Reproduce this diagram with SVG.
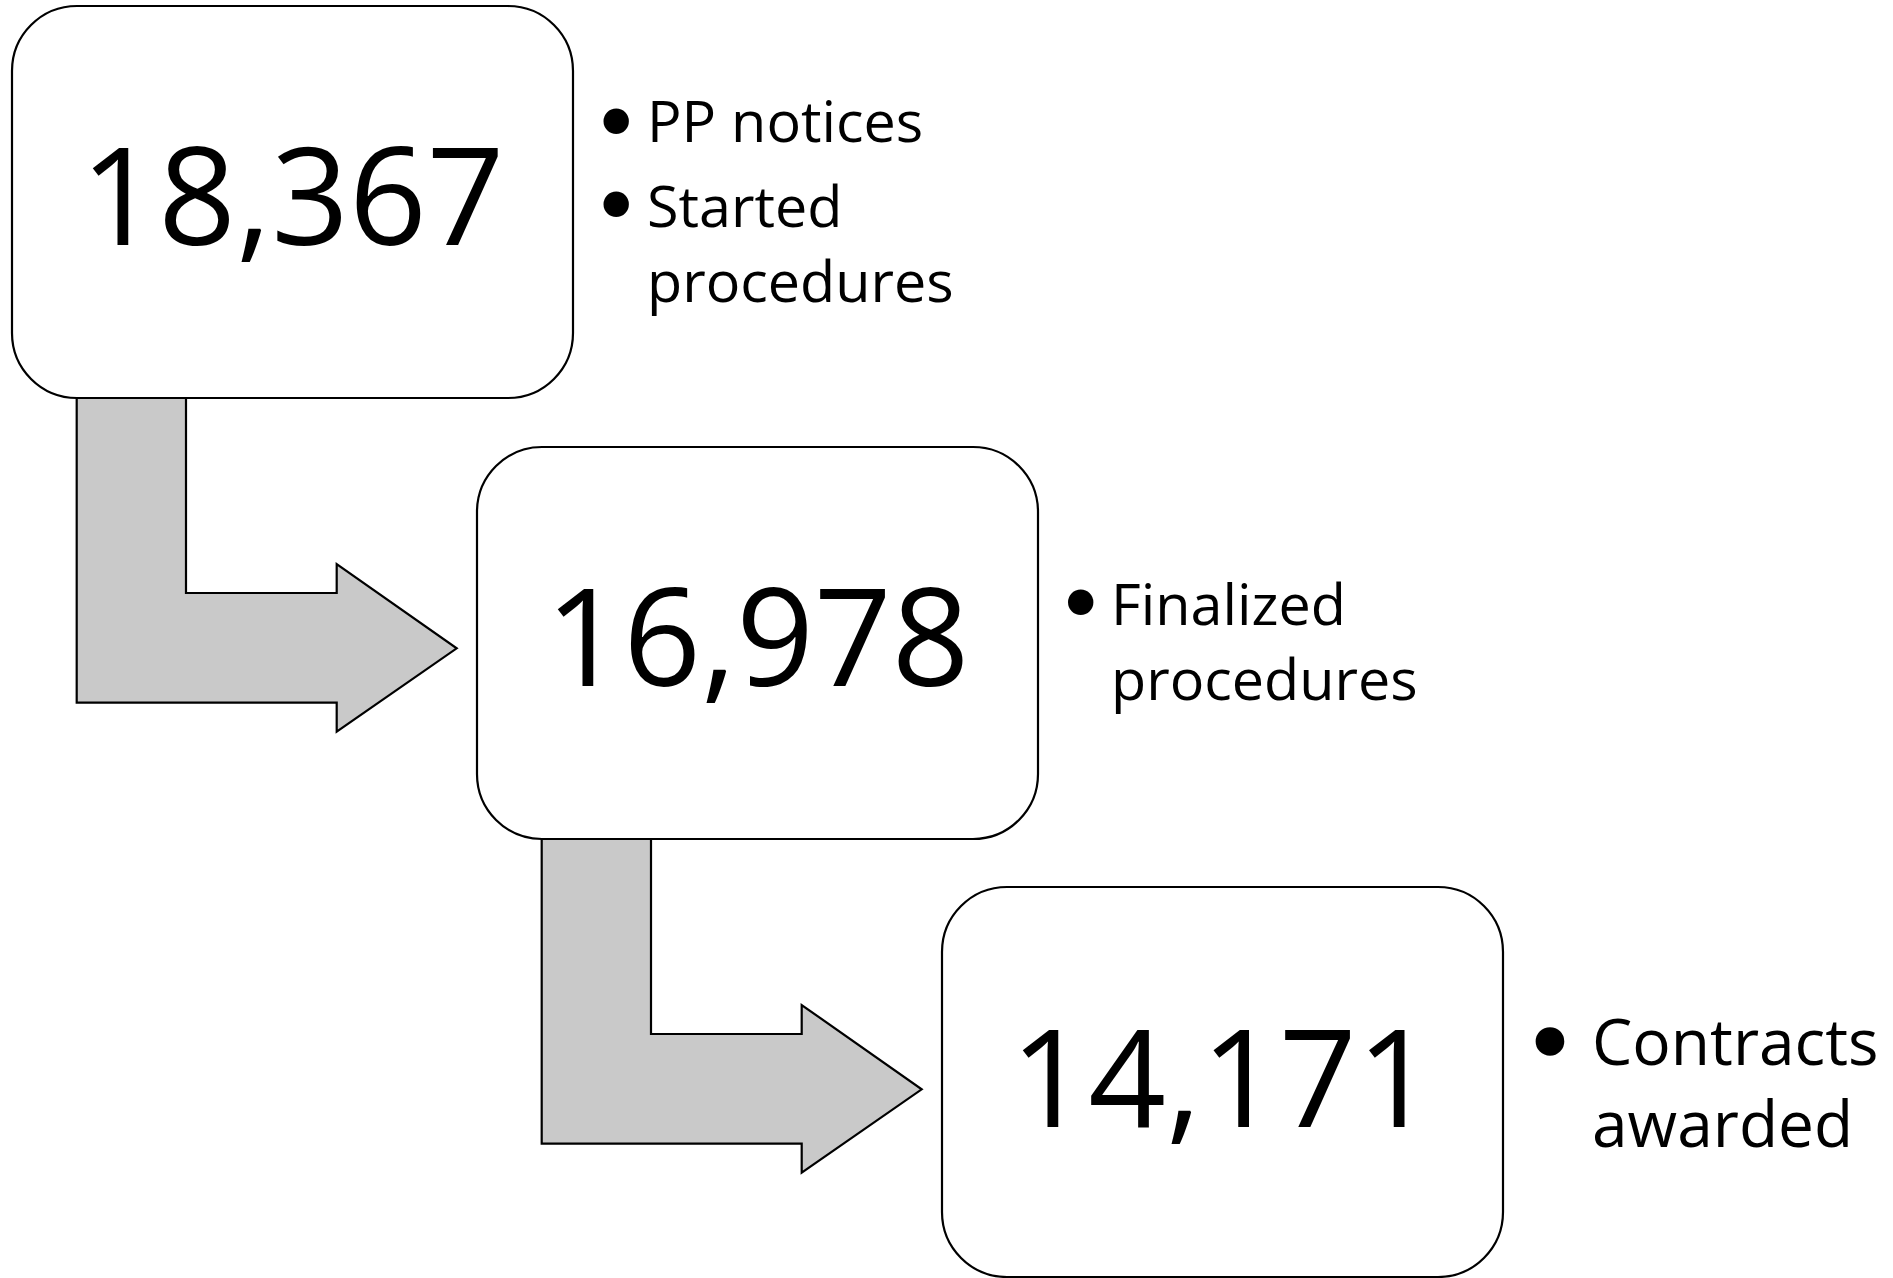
<svg xmlns="http://www.w3.org/2000/svg" width="1893" height="1278" viewBox="0 0 1893 1278">
<style>
.box{fill:#fff;stroke:#000;stroke-width:2.2}
.arr{fill:#c9c9c9;stroke:#000;stroke-width:2.2;stroke-linejoin:miter}
.num{font-family:"Open Sans","Noto Sans",sans-serif;font-size:136px;fill:#000;text-anchor:middle}
.lbl{font-family:"Open Sans","Noto Sans",sans-serif;font-size:57.5px;fill:#000}
.lbl3{font-family:"Open Sans","Noto Sans",sans-serif;font-size:64px;fill:#000}
.b{font-family:"DejaVu Sans",sans-serif;fill:#000;stroke:#000;stroke-width:8;stroke-linejoin:round;font-size:60px}
.b3{font-family:"DejaVu Sans",sans-serif;fill:#000;stroke:#000;stroke-width:9.5;stroke-linejoin:round;font-size:66px}
</style>
<rect width="1893" height="1278" fill="#fff"/>
<g id="connectors">
<polygon class="arr" points="76.7,398 186,398 186,593 336.7,593 336.7,564 456.7,648.3 336.7,731.7 336.7,702.7 76.7,702.7"/>
<polygon class="arr" points="541.7,839 651,839 651,1034 801.7,1034 801.7,1005 921.7,1089.3 801.7,1172.7 801.7,1143.7 541.7,1143.7"/>
</g>
<g id="node1">
<rect class="box" x="12" y="6" width="561" height="392" rx="65" ry="65"/>
<text class="num" x="292.5" y="245">18,367</text>
<text class="b" x="598.5" y="143.5">•</text>
<text class="lbl" x="647" y="141.7">PP notices</text>
<text class="b" x="598.5" y="227">•</text>
<text class="lbl"><tspan x="647" y="227">Started</tspan><tspan x="647" y="302">procedures</tspan></text>
</g>
<g id="node2">
<rect class="box" x="477" y="447" width="561" height="392" rx="65" ry="65"/>
<text class="num" x="757.5" y="686">16,978</text>
<text class="b" x="1063" y="625">•</text>
<text class="lbl"><tspan x="1111" y="625">Finalized</tspan><tspan x="1111" y="700">procedures</tspan></text>
</g>
<g id="node3">
<rect class="box" x="942" y="887" width="561" height="390" rx="65" ry="65"/>
<text class="num" x="1222.5" y="1127">14,171</text>
<text class="b3" x="1530.4" y="1066">•</text>
<text class="lbl3"><tspan x="1592" y="1065">Contracts</tspan><tspan x="1592" y="1147">awarded</tspan></text>
</g>
</svg>
